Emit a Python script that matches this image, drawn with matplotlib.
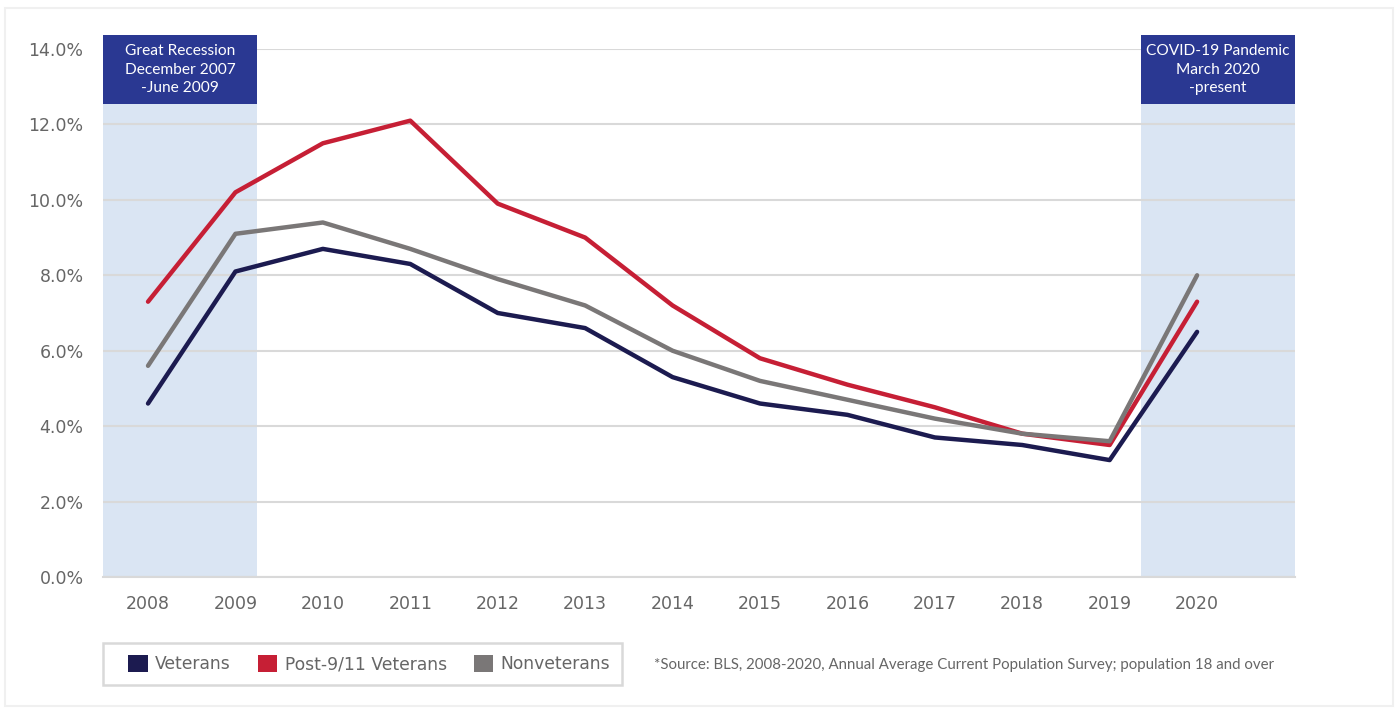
import matplotlib
matplotlib.use("Agg")
import matplotlib.pyplot as plt
from matplotlib.patches import Rectangle, Patch
from matplotlib.ticker import FuncFormatter

years = ["2008", "2009", "2010", "2011", "2012", "2013", "2014",
         "2015", "2016", "2017", "2018", "2019", "2020"]
veterans = [4.6, 8.1, 8.7, 8.3, 7.0, 6.6, 5.3, 4.6, 4.3, 3.7, 3.5, 3.1, 6.5]
post911 = [7.3, 10.2, 11.5, 12.1, 9.9, 9.0, 7.2, 5.8, 5.1, 4.5, 3.8, 3.5, 7.3]
nonveterans = [5.6, 9.1, 9.4, 8.7, 7.9, 7.2, 6.0, 5.2, 4.7, 4.2, 3.8, 3.6, 8.0]
series_names = ["Veterans", "Post-9/11 Veterans", "Nonveterans"]
recessions = [
    ("Great Recession\nDecember 2007\n-June 2009", -0.515, 1.247),
    ("COVID-19 Pandemic\nMarch 2020\n-present", 11.36, 13.12),
]
source_note = "*Source: BLS, 2008-2020, Annual Average Current Population Survey; population 18 and over"

C_NAVY = "#1c1b50"
C_RED = "#c61f35"
C_GRAY = "#7a7777"
C_SHADE = "#dae5f3"
C_HEAD = "#2a3892"
C_TXT = "#666666"

W, H = 1398, 708
fig = plt.figure(figsize=(W / 100, H / 100), dpi=100)
fig.patch.set_facecolor("white")

# card border
fig.add_artist(Rectangle((5 / W, 2 / H), (W - 10) / W, (H - 10) / H,
                         transform=fig.transFigure, facecolor="none",
                         edgecolor="#f0f0f0", lw=1.5))

ax = fig.add_axes([103 / W, (H - 577) / H, (1295 - 103) / W, (577 - 49) / H])
x = list(range(len(years)))
ax.set_xlim(-0.515, 13.12)
ax.set_ylim(0, 14)

for label, x0, x1 in recessions:
    ax.add_patch(Rectangle((x0, 0), x1 - x0, 12.54, facecolor=C_SHADE,
                           edgecolor="none", zorder=0))
    ax.add_patch(Rectangle((x0, 12.54), x1 - x0, 14.37 - 12.54, facecolor=C_HEAD,
                           edgecolor="none", zorder=3, clip_on=False))
    ax.text((x0 + x1) / 2, (12.54 + 14.37) / 2, label, color="white",
            ha="center", va="center", fontsize=11.2, family="Lato",
            linespacing=1.42, zorder=4, clip_on=False)

ax.set_yticks([0, 2, 4, 6, 8, 10, 12, 14])
ax.yaxis.set_major_formatter(FuncFormatter(lambda v, p: f"{v:.1f}%"))
ax.set_xticks(x)
ax.set_xticklabels(years)
ax.grid(axis="y", color="#d9d9d9", lw=1.5, zorder=1)
ax.set_axisbelow(True)
for s in ["top", "right", "left"]:
    ax.spines[s].set_visible(False)
ax.spines["bottom"].set_color("#d9d9d9")
ax.spines["bottom"].set_linewidth(1.5)
ax.tick_params(axis="both", length=0, labelsize=12.5, labelcolor=C_TXT)
ax.tick_params(axis="y", pad=14)
ax.tick_params(axis="x", pad=13)

ax.plot(x, veterans, color=C_NAVY, lw=3.2, solid_capstyle="round", zorder=5)
ax.plot(x, post911, color=C_RED, lw=3.2, solid_capstyle="round", zorder=6)
ax.plot(x, nonveterans, color=C_GRAY, lw=3.2, solid_capstyle="round", zorder=7)

# legend frame drawn separately
fig.add_artist(Rectangle((103 / W, (H - 685) / H), (622 - 103) / W, 42 / H,
                         transform=fig.transFigure, facecolor="white",
                         edgecolor="#d9d9d9", lw=1.8, zorder=0))
handles = [Patch(facecolor=c, edgecolor="none") for c in (C_NAVY, C_RED, C_GRAY)]
leg = fig.legend(handles, series_names, loc="center left",
                 bbox_to_anchor=(128 / W, (H - 664) / H), ncol=3,
                 borderaxespad=0, borderpad=0,
                 frameon=False, handlelength=1.15, handleheight=1.15,
                 handletextpad=0.45, columnspacing=1.55,
                 prop={"family": "DejaVu Sans", "size": 12.3})
for t in leg.get_texts():
    t.set_color(C_TXT)

fig.text(654 / W, (H - 665) / H, source_note, ha="left", va="center",
         fontsize=10.8, family="Lato", color=C_TXT)

fig.savefig("out.png", dpi=100)
